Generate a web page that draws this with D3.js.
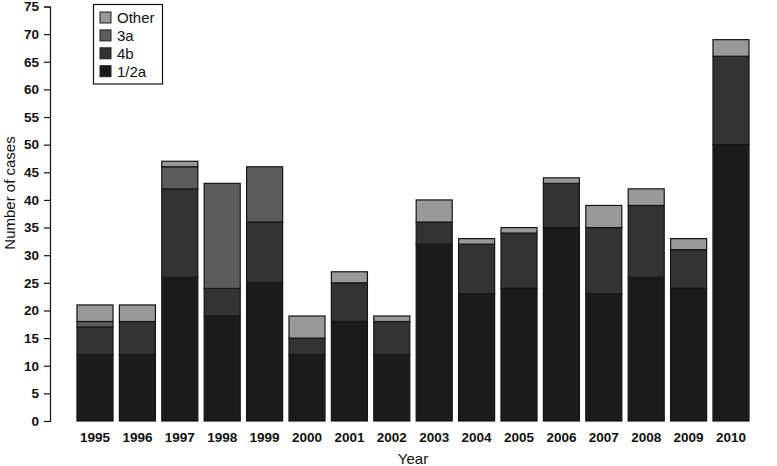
<!DOCTYPE html>
<html lang="en">
<head>
<meta charset="UTF-8">
<title>Cases by genotype per year</title>
<script src="https://d3js.org/d3.v7.min.js"></script>
<style>
  body { margin: 0; background: #fff; }
  text { font-family: "Liberation Sans", Arial, sans-serif; fill: #111; }
  .tick-lbl { font-size: 13.5px; font-weight: bold; }
  .axis-title { font-size: 15px; }
  .leg-lbl { font-size: 15px; }
</style>
</head>
<body>
<svg id="main" width="777" height="466"></svg>
<script>
  // data
  let years = ['1995','1996','1997','1998','1999','2000','2001','2002',
               '2003','2004','2005','2006','2007','2008','2009','2010'];
  let g12a  = [12, 12, 26, 19, 25, 12, 18, 12, 32, 23, 24, 35, 23, 26, 24, 50];
  let g4b   = [ 5,  6, 16,  5, 11,  3,  7,  6,  4,  9, 10,  8, 12, 13,  7, 16];
  let g3a   = [ 1,  0,  4, 19, 10,  0,  0,  0,  0,  0,  0,  0,  0,  0,  0,  0];
  let other = [ 3,  3,  1,  0,  0,  4,  2,  1,  4,  1,  1,  1,  4,  3,  2,  3];
  let yTicks = d3.range(0, 76, 5);

  let keys = ['1/2a', '4b', '3a', 'Other'];
  let colors = ['#1b1b1b', '#333333', '#5c5c5c', '#999999'];

  let data = years.map(function(y, i){
    return {year: y, '1/2a': g12a[i], '4b': g4b[i], '3a': g3a[i], 'Other': other[i]};
  });
  let series = d3.stack().keys(keys)(data);

  let svg = d3.select('svg#main');

  let xScale = d3.scaleBand().domain(years).range([73.8, 752.2])
      .paddingInner(0.15).paddingOuter(0.075);
  let yScale = d3.scaleLinear().domain([0, 75]).range([421, 6.5]);

  // bars
  let groups = svg.selectAll('g.layer')
      .data(series)
      .enter()
      .append('g')
      .attr('class', 'layer')
      .style('fill', function(d, i){ return colors[i]; });

  groups.selectAll('rect')
      .data(function(d){ return d.filter(function(s){ return s[1] > s[0]; }); })
      .enter()
      .append('rect')
      .attr('x', function(d){ return xScale(d.data.year); })
      .attr('y', function(d){ return yScale(d[1]); })
      .attr('width', xScale.bandwidth())
      .attr('height', function(d){ return yScale(d[0]) - yScale(d[1]); })
      .attr('stroke', '#151515')
      .attr('stroke-width', 1.2);

  // y axis
  let yAxis = svg.append('g')
      .attr('transform', 'translate(50,0)')
      .call(d3.axisLeft(yScale).tickValues(yTicks).tickSize(6).tickPadding(5));
  yAxis.select('.domain').attr('stroke', '#111').attr('stroke-width', 1.2);
  yAxis.selectAll('.tick line').attr('stroke', '#111').attr('stroke-width', 1.2);
  yAxis.selectAll('.tick text').attr('class', 'tick-lbl').attr('font-family', null).attr('font-size', null);

  // x labels (no axis line in the picture)
  svg.append('g').selectAll('text')
      .data(years)
      .enter()
      .append('text')
      .attr('class', 'tick-lbl')
      .attr('x', function(d){ return xScale(d) + xScale.bandwidth() / 2; })
      .attr('y', 442)
      .attr('text-anchor', 'middle')
      .text(function(d){ return d; });

  // axis titles
  svg.append('text')
      .attr('class', 'axis-title')
      .attr('x', 413)
      .attr('y', 464)
      .attr('text-anchor', 'middle')
      .text('Year');
  svg.append('text')
      .attr('class', 'axis-title')
      .attr('transform', 'translate(15,193) rotate(-90)')
      .attr('text-anchor', 'middle')
      .text('Number of cases');

  // legend, top entry is "Other"
  let legKeys = keys.slice().reverse();
  let legColors = colors.slice().reverse();
  let legend = svg.append('g');
  legend.append('rect')
      .attr('x', 93.5).attr('y', 4.5)
      .attr('width', 69).attr('height', 79.5)
      .attr('fill', '#fff')
      .attr('stroke', '#111')
      .attr('stroke-width', 1.2);
  let rows = legend.selectAll('g.row')
      .data(legKeys)
      .enter()
      .append('g')
      .attr('class', 'row')
      .attr('transform', function(d, i){ return 'translate(100,' + (17.5 + i * 17.9) + ')'; });
  rows.append('rect')
      .attr('x', 0).attr('y', -5.5)
      .attr('width', 11).attr('height', 11)
      .attr('fill', function(d, i){ return legColors[i]; })
      .attr('stroke', '#222');
  rows.append('text')
      .attr('class', 'leg-lbl')
      .attr('x', 17)
      .attr('y', 5.5)
      .text(function(d){ return d; });
</script>
</body>
</html>
